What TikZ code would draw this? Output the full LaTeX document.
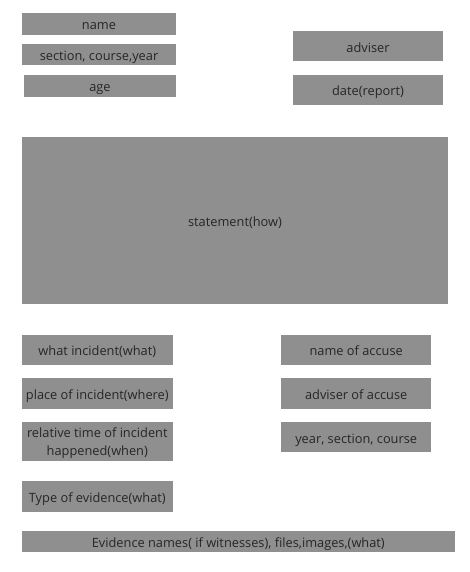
\documentclass[tikz,border=0pt]{standalone}
\usepackage{fontspec}
\setmainfont{Open Sans}
\definecolor{boxgray}{HTML}{8F8F8F}
\definecolor{txtgray}{HTML}{262626}
\tikzset{
  fieldbase/.style={rectangle, fill=boxgray, inner sep=0pt, outer sep=0pt, text=txtgray,
    font=\fontsize{12.8}{18.3}\selectfont, align=center},
  field/.style={fieldbase, text height=12pt, text depth=0pt},
  fieldtext/.style={inner sep=0pt, outer sep=0pt, text=txtgray,
    font=\fontsize{12.8}{18.3}\selectfont, align=center},
}
\begin{document}
\begin{tikzpicture}[x=1pt,y=-1pt]
\useasboundingbox[fill=white] (0,0) rectangle (469,572);
\node[field, minimum width=154pt, minimum height=21.4pt] (name) at (99,24) {name};
\node[field, minimum width=154pt, minimum height=21.3pt] (sec) at (99,54.7) {section, course,year};
\node[field, minimum width=152pt, minimum height=22pt] (age) at (100,85.7) {age};
\node[field, minimum width=150.6pt, minimum height=30pt] (adv) at (368,46.3) {adviser};
\node[field, minimum width=150.6pt, minimum height=30.6pt] (date) at (368,90) {date(report)};
\node[field, minimum width=426pt, minimum height=166.7pt] (stmt) at (235,220.7) {statement(how)};
\node[field, minimum width=150.7pt, minimum height=30.3pt] (what) at (97.3,349.8) {what incident(what)};
\node[field, minimum width=150.7pt, minimum height=30.3pt] (place) at (97.3,393.5) {place of incident(where)};
\node[fieldbase, minimum width=150.7pt, minimum height=39pt] (time) at (97.3,441.2) {};
\node[fieldtext] (timetext) at ([yshift=-2pt]time.center) {relative time of incident\\happened(when)};
\node[field, minimum width=150.7pt, minimum height=31pt] (type) at (97.3,496.2) {Type of evidence(what)};
\node[field, minimum width=432.7pt, minimum height=21.3pt] (evid) at (238.3,541.7) {Evidence names( if witnesses), files,images,(what)};
\node[field, minimum width=150.3pt, minimum height=30.3pt] (acc) at (356.2,349.8) {name of accuse};
\node[field, minimum width=150.3pt, minimum height=30.3pt] (accadv) at (356.2,393.5) {adviser of accuse};
\node[field, minimum width=150.3pt, minimum height=30.3pt] (accyear) at (356.2,437.2) {year, section, course};
\end{tikzpicture}
\end{document}
